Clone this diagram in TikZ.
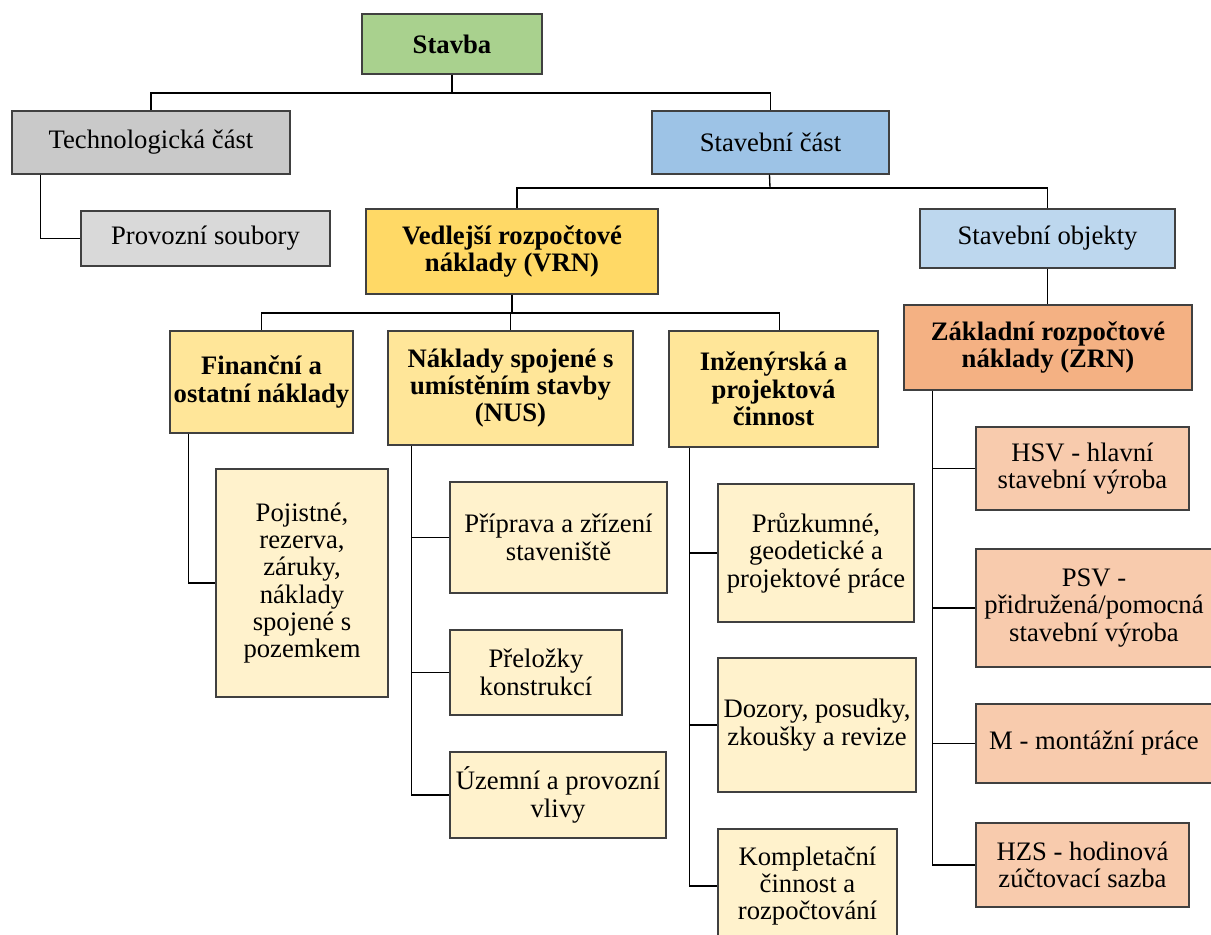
\documentclass[tikz,border=0pt]{standalone}
\usepackage{fontspec}
\setmainfont{Liberation Serif}
\usetikzlibrary{fit}

\definecolor{cGreen}{HTML}{A9D18E}
\definecolor{cGray}{HTML}{C9C9C9}
\definecolor{cGrayL}{HTML}{D9D9D9}
\definecolor{cBlue}{HTML}{9DC3E6}
\definecolor{cBlueL}{HTML}{BDD7EE}
\definecolor{cGold}{HTML}{FFD966}
\definecolor{cYel}{HTML}{FFE699}
\definecolor{cYelL}{HTML}{FFF2CC}
\definecolor{cOra}{HTML}{F4B183}
\definecolor{cOraL}{HTML}{F8CBAD}
\definecolor{cEdge}{HTML}{404040}

\tikzset{
  box/.style={draw=cEdge, line width=0.8pt, inner sep=0pt, align=center,
              font=\fontsize{20}{20.5}\selectfont},
  head/.style={box, font=\fontsize{20}{20.5}\selectfont\bfseries},
  conn/.style={draw=black, line width=1pt},
}

\begin{document}
\begin{tikzpicture}[x=0.75pt, y=-0.75pt]
\useasboundingbox (0,0) rectangle (1211,935);
\clip (0,0) rectangle (1211,935);

% --- top levels
\node[head, fill=cGreen, fit={(362,14) (542,74)}] (stavba) {};
\node[head, draw=none] at (stavba.center) {Stavba};

\node[box, fill=cGray, fit={(12,111) (290,174)}] (tech) {};
\node[box, draw=none] at (tech.center) {Technologická část};

\node[box, fill=cBlue, fit={(652,111) (889,174)}] (stavcast) {};
\node[box, draw=none] at (stavcast.center) {Stavební část};

\node[box, fill=cGrayL, fit={(81,211) (330,266)}] (provoz) {};
\node[box, draw=none] at (provoz.center) {Provozní soubory};

\node[box, fill=cGold, fit={(366,209) (658,294)}] (vrn) {};
\node[head, draw=none] at (vrn.center) {Vedlejší rozpočtové\\náklady (VRN)};

\node[box, fill=cBlueL, fit={(920,209) (1175,268)}] (objekty) {};
\node[box, draw=none] at (objekty.center) {Stavební objekty};

\node[box, fill=cOra, fit={(904,305) (1192,390)}] (zrn) {};
\node[head, draw=none] at (zrn.center) {Základní rozpočtové\\náklady (ZRN)};

% --- VRN groups
\node[box, fill=cYel, fit={(170,331) (353,433)}] (fin) {};
\node[head, draw=none] at (fin.center) {Finanční a\\ostatní náklady};

\node[box, fill=cYel, fit={(388,331) (633,445)}] (nus) {};
\node[head, draw=none] at (nus.center) {Náklady spojené s\\umístěním stavby\\(NUS)};

\node[box, fill=cYel, fit={(669,331) (878,447)}] (inz) {};
\node[head, draw=none] at (inz.center) {Inženýrská a\\projektová\\činnost};

% --- leaves
\node[box, fill=cYelL, fit={(216,469) (388,697)}] (poj) {};
\node[box, draw=none] at (poj.center) {Pojistné,\\rezerva,\\záruky,\\náklady\\spojené s\\pozemkem};

\node[box, fill=cYelL, fit={(450,482) (667,593)}] (prip) {};
\node[box, draw=none] at (prip.center) {Příprava a zřízení\\staveniště};

\node[box, fill=cYelL, fit={(450,630) (622,715)}] (prel) {};
\node[box, draw=none] at (prel.center) {Přeložky\\konstrukcí};

\node[box, fill=cYelL, fit={(450,752) (666,838)}] (uzem) {};
\node[box, draw=none] at (uzem.center) {Územní a provozní\\vlivy};

\node[box, fill=cYelL, fit={(718,484) (914,622)}] (pruz) {};
\node[box, draw=none] at (pruz.center) {Průzkumné,\\geodetické a\\projektové práce};

\node[box, fill=cYelL, fit={(718,658) (916,792)}] (dozor) {};
\node[box, draw=none] at (dozor.center) {Dozory, posudky,\\zkoušky a revize};

\node[box, fill=cYelL, fit={(718,829) (897,943)}] (kompl) {};
\node[box, draw=none] at (kompl.center) {Kompletační\\činnost a\\rozpočtování};

\node[box, fill=cOraL, fit={(976,427) (1189,510)}] (hsv) {};
\node[box, draw=none] at (hsv.center) {HSV - hlavní\\stavební výroba};

\node[box, fill=cOraL, fit={(976,549) (1212,667)}] (psv) {};
\node[box, draw=none] at (psv.center) {PSV -\\přidružená/pomocná\\stavební výroba};

\node[box, fill=cOraL, fit={(976,704) (1212,783)}] (mont) {};
\node[box, draw=none] at (mont.center) {M - montážní práce};

\node[box, fill=cOraL, fit={(976,823) (1189,907)}] (hzs) {};
\node[box, draw=none] at (hzs.center) {HZS - hodinová\\zúčtovací sazba};

% --- connectors
\coordinate (j1) at (452,93);
\draw[conn] (stavba.south) -- (j1);
\draw[conn] (j1) -| (tech.north);
\draw[conn] (j1) -| (stavcast.north);

\draw[conn] (tech.south west) ++(29,0) |- (provoz.west);

\coordinate (j2) at (770,188);
\draw[conn] (stavcast.south) ++(-1,0) -- (j2);
\draw[conn] (j2) -| ([xshift=3.75pt]vrn.north);
\draw[conn] (j2) -| (objekty.north);
\draw[conn] (objekty.south) -- (objekty.south |- zrn.north);

\coordinate (j3) at (512,313);
\draw[conn] (vrn.south) -- (j3);
\draw[conn] (j3) -| (fin.north);
\draw[conn] (j3) -| (nus.north);
\draw[conn] (j3) -| ([xshift=4.5pt]inz.north);

\draw[conn] (fin.south west) ++(19,0) |- (poj.west);

\path (nus.south west) ++(24,0) coordinate (rnus);
\draw[conn] (rnus) |- (uzem.west);
\draw[conn] (prip.west) -- (prip.west -| rnus);
\draw[conn] (prel.west) -- (prel.west -| rnus);

\path (inz.south west) ++(21,0) coordinate (rinz);
\draw[conn] (rinz) |- (kompl.west);
\draw[conn] (pruz.west) -- (pruz.west -| rinz);
\draw[conn] (dozor.west) -- (dozor.west -| rinz);

\path (zrn.south west) ++(29,0) coordinate (rzrn);
\draw[conn] (rzrn) |- (hzs.west);
\draw[conn] (hsv.west) -- (hsv.west -| rzrn);
\draw[conn] (psv.west) -- (psv.west -| rzrn);
\draw[conn] (mont.west) -- (mont.west -| rzrn);
\end{tikzpicture}
\end{document}
